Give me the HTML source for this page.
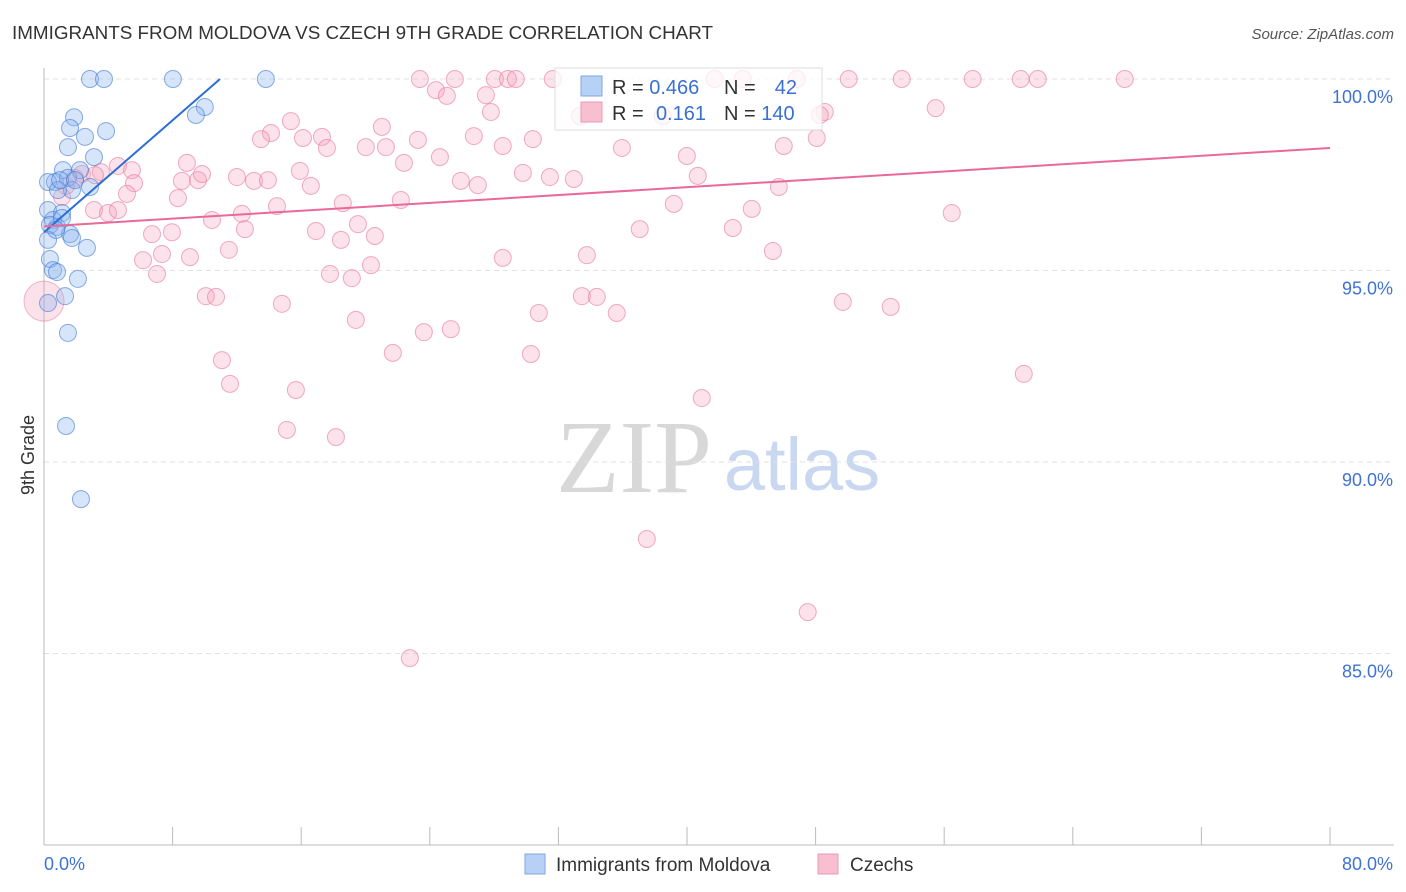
<!DOCTYPE html>
<html><head><meta charset="utf-8">
<style>
body{margin:0;background:#fff;font-family:"Liberation Sans",sans-serif;}
#wrap{position:relative;width:1406px;height:892px;overflow:hidden;}
</style></head><body>
<div id="wrap">
<svg id="svg" width="1406" height="892" xmlns="http://www.w3.org/2000/svg">
<text x="12" y="39" font-size="18" fill="#333" textLength="701" lengthAdjust="spacingAndGlyphs">IMMIGRANTS FROM MOLDOVA VS CZECH 9TH GRADE CORRELATION CHART</text>
<text x="1394" y="39" font-size="15" fill="#555" font-style="italic" text-anchor="end">Source: ZipAtlas.com</text>
<text x="34" y="455" font-size="18" fill="#333" text-anchor="middle" transform="rotate(-90 34 455)">9th Grade</text>
<text x="634" y="492" font-size="104" fill="#d8d8d8" text-anchor="middle" font-family="Liberation Serif, serif">ZIP</text>
<text x="802" y="490" font-size="74" fill="#c9d8f0" text-anchor="middle">atlas</text>
<g id="grid"></g><g id="axes"></g><g id="pts"></g><g id="trend"></g>
<g>
<rect x="555" y="68" width="267" height="62" fill="rgba(255,255,255,0.75)" stroke="#ddd"/>
<rect x="581" y="76" width="21" height="20" fill="#b7d0f5" stroke="#7fa7e3"/>
<rect x="581" y="102" width="21" height="20" fill="#f8bfd0" stroke="#eb9ab3"/>
<text x="612" y="94" font-size="20" fill="#333">R = <tspan fill="#3a70d0">0.466</tspan></text>
<text x="724" y="94" font-size="20" fill="#333">N = </text>
<text x="797" y="94" font-size="20" fill="#3a70d0" text-anchor="end">42</text>
<text x="612" y="120" font-size="20" fill="#333">R = </text>
<text x="706" y="120" font-size="20" fill="#3a70d0" text-anchor="end">0.161</text>
<text x="724" y="120" font-size="20" fill="#333">N = <tspan fill="#3a70d0">140</tspan></text>
</g>
<g>
<rect x="525" y="854" width="20" height="20" fill="#b7d0f5" stroke="#7fa7e3"/>
<text x="556" y="871" font-size="19" fill="#333">Immigrants from Moldova</text>
<rect x="818" y="854" width="20" height="20" fill="#f8bfd0" stroke="#eb9ab3"/>
<text x="850" y="871" font-size="19" fill="#333">Czechs</text>
</g>
</svg>
</div>
<script>
const yTicks=[100,95,90,85];
const yTickLabels=["100.0%","95.0%","90.0%","85.0%"];
const xTickCount=10;
const xEndLabels=["0.0%","80.0%"];
const blueX=[2.86,3.73,8.02,13.8,10.0,9.45,1.87,1.62,3.86,2.55,1.49,3.11,1.18,2.24,0.68,0.25,1.49,1.74,2.86,0.87,0.25,1.12,0.56,0.81,1.62,1.74,0.25,2.67,0.37,0.56,0.81,2.11,1.31,0.25,1.49,1.37,2.30,1.0,0.37,1.93,1.12,0.75];
const blueY=[100,100,100,100,99.27,99.06,99.0,98.72,98.64,98.49,98.22,97.96,97.62,97.62,97.31,97.31,97.42,97.10,97.18,97.10,96.58,96.50,96.32,96.14,95.95,95.85,95.80,95.59,95.30,95.01,94.96,94.78,94.33,94.15,93.37,90.94,89.03,97.36,96.19,97.36,96.37,96.06];
const pinkX=[23.38,25.56,28.05,28.86,29.35,31.65,41.73,43.47,46.83,50.06,53.36,57.77,60.76,61.82,67.23,24.38,25.06,27.49,27.80,33.33,38.49,48.57,48.26,55.47,15.36,14.12,13.50,16.11,17.29,17.60,21.02,20.02,21.27,23.26,26.74,28.54,30.41,35.95,46.02,48.07,24.63,22.39,39.99,8.89,4.60,5.47,3.54,5.60,8.58,9.58,9.83,12.0,13.06,13.93,15.92,16.60,25.93,26.99,29.79,31.47,32.96,40.67,45.71,5.16,8.33,18.59,22.20,14.49,3.11,3.98,12.31,10.45,19.53,12.50,16.92,6.72,7.96,20.58,18.47,37.06,42.85,39.18,44.03,56.47,11.50,7.34,9.08,6.16,45.34,33.77,28.54,20.34,17.79,19.15,7.03,10.07,10.70,14.80,33.46,34.39,30.78,35.63,49.69,52.67,19.40,23.63,25.31,21.70,30.29,11.07,11.57,15.67,40.92,60.95,15.11,18.16,37.50,47.51,22.76,1.37,1.93,2.36,1.12,3.17,4.6];
const pinkY=[100,100,100,100,100,100,100,100,100,100,100,100,100,100,100,99.71,99.56,99.58,99.14,99.03,99.03,99.14,99.06,99.24,98.90,98.59,98.43,98.46,98.49,98.20,98.75,98.22,98.22,98.41,98.51,98.25,98.43,98.20,98.25,98.46,97.96,97.81,97.99,97.81,97.73,97.62,97.57,97.28,97.34,97.36,97.52,97.44,97.34,97.36,97.60,97.21,97.34,97.23,97.55,97.44,97.39,97.47,97.18,97.0,96.89,96.76,96.84,96.68,96.58,96.50,96.48,96.32,96.21,96.08,96.03,95.95,96.0,95.90,95.80,96.08,96.11,96.74,96.61,96.50,95.54,95.43,95.35,95.27,95.51,95.40,95.33,95.14,94.91,94.80,94.91,94.33,94.31,94.13,94.33,94.31,93.89,93.89,94.18,94.05,93.71,93.39,93.47,92.85,92.82,92.66,92.04,91.88,91.67,92.30,90.84,90.65,87.99,86.08,84.88,97.21,97.42,97.52,96.92,97.49,96.58];
const bigPinkX=[0];
const bigPinkY=[94.2];
const blueTrend=[[0,96.0],[10.95,100]];
const pinkTrend=[[0,96.15],[80,98.2]];
const NS="http://www.w3.org/2000/svg";
const X0=44,X1=1330,Y100=79,PXPER=38.3;
function sx(v){return X0+(v/80)*(X1-X0);}
function sy(v){return Y100+(100-v)*PXPER;}
function mk(t,a,p){const e=document.createElementNS(NS,t);for(const k in a)e.setAttribute(k,a[k]);p.appendChild(e);return e;}
const grid=document.getElementById('grid'),axes=document.getElementById('axes'),pts=document.getElementById('pts'),trend=document.getElementById('trend');
yTicks.forEach((v,i)=>{
 const l=mk('line',{x1:X0,x2:1394,y1:sy(v),y2:sy(v),stroke:'#e2e2e2','stroke-dasharray':'5,4'},grid);
 
 
 const t=mk('text',{x:1393,y:sy(v)+24,'font-size':18,fill:'#3f72d4','text-anchor':'end'},grid);
 t.textContent=yTickLabels[i];
 
 
});
const ya=mk('line',{x1:X0,x2:X0,y1:68,y2:845,stroke:'#bbb'},axes);


const xa=mk('line',{x1:X0,x2:1394,y1:845,y2:845,stroke:'#bbb'},axes);


for(let i=0;i<=xTickCount;i++){
 const x=sx(i*80/xTickCount);
 const tk=mk('line',{x1:x,x2:x,y1:827,y2:845,stroke:'#bbb'},axes);
 
 
}
xEndLabels.forEach((s,i)=>{
 const t=mk('text',{x:i?1393:44,y:870,'font-size':18,fill:'#3f72d4','text-anchor':i?'end':'start'},axes);
 t.textContent=s;
 
 
});
bigPinkX.forEach((v,i)=>{
 const c=mk('circle',{cx:sx(v),cy:sy(bigPinkY[i]),r:20,fill:'rgba(240,140,170,0.25)',stroke:'rgba(230,120,155,0.5)'},pts);
 
 
});
pinkX.forEach((v,i)=>{
 const c=mk('circle',{cx:sx(v),cy:sy(pinkY[i]),r:8.5,fill:'rgba(244,160,185,0.3)',stroke:'rgba(230,120,155,0.6)'},pts);
 
 
});
blueX.forEach((v,i)=>{
 const c=mk('circle',{cx:sx(v),cy:sy(blueY[i]),r:8.5,fill:'rgba(140,180,240,0.35)',stroke:'rgba(60,120,210,0.6)'},pts);
 
 
});
const bt=mk('line',{x1:sx(blueTrend[0][0]),y1:sy(blueTrend[0][1]),x2:sx(blueTrend[1][0]),y2:sy(blueTrend[1][1]),stroke:'#2a6fd6','stroke-width':2},trend);


const pt=mk('line',{x1:sx(pinkTrend[0][0]),y1:sy(pinkTrend[0][1]),x2:sx(pinkTrend[1][0]),y2:sy(pinkTrend[1][1]),stroke:'#e8699a','stroke-width':2},trend);


</script>
</body></html>
